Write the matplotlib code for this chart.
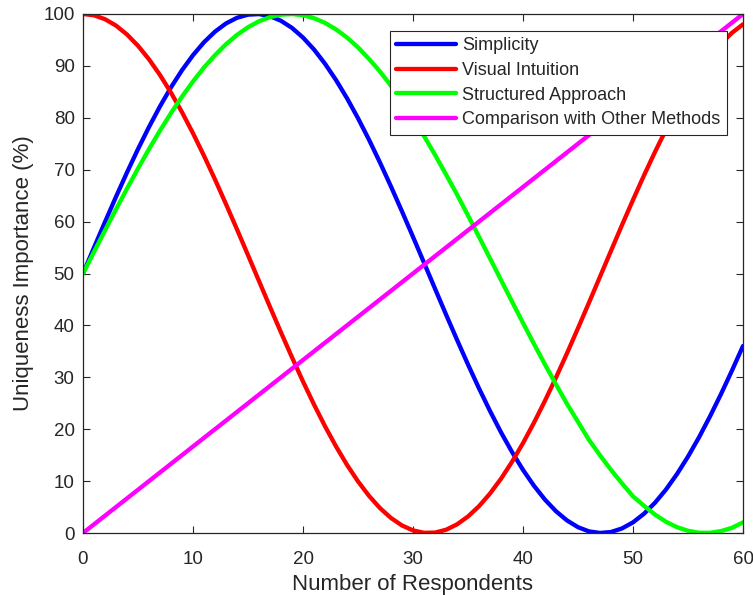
import matplotlib
matplotlib.use("Agg")
import matplotlib.pyplot as plt

x_vals = list(range(0, 61))
simplicity = [50.00, 54.99, 59.93, 64.78, 69.47, 73.97, 78.23, 82.21, 85.87, 89.17,
              92.07, 94.56, 96.60, 98.18, 99.27, 99.87, 99.98, 99.58, 98.69, 97.32,
              95.46, 93.16, 90.42, 87.28, 83.77, 79.92, 75.78, 71.37, 66.75, 61.96,
              57.06, 52.08, 47.08, 42.11, 37.23, 32.46, 27.87, 23.51, 19.40, 15.61,
              12.16, 9.09, 6.42, 4.19, 2.42, 1.12, 0.31, 0.01, 0.19, 0.88,
              2.05, 3.71, 5.83, 8.38, 11.36, 14.72, 18.43, 22.47, 26.77, 31.31, 36.03]
visual_intuition = [100.00, 99.75, 99.00, 97.77, 96.05, 93.88, 91.27, 88.24, 84.84, 81.08,
                    77.02, 72.68, 68.12, 63.37, 58.50, 53.54, 48.54, 43.56, 38.64, 33.84,
                    29.19, 24.76, 20.57, 16.69, 13.13, 9.94, 7.16, 4.79, 2.89, 1.45,
                    0.50, 0.04, 0.08, 0.62, 1.66, 3.18, 5.16, 7.60, 10.45, 13.71,
                    17.32, 21.26, 25.49, 29.96, 34.63, 39.46, 44.39, 49.38, 54.37, 59.33,
                    64.18, 68.90, 73.43, 77.72, 81.74, 85.44, 88.78, 91.74, 94.28, 96.38, 98.01]
structured = [50.00, 54.16, 58.30, 62.37, 66.36, 70.23, 73.97, 77.54, 80.92, 84.08,
              87.01, 89.69, 92.07, 94.18, 95.97, 97.45, 98.60, 99.40, 99.87, 99.99,
              99.77, 99.20, 98.29, 97.04, 95.46, 93.58, 91.34, 88.91, 86.17, 83.15,
              79.92, 76.49, 72.87, 69.09, 65.23, 61.18, 57.06, 52.91, 48.75, 44.59,
              40.47, 36.42, 32.46, 28.64, 24.88, 21.42, 17.94, 14.97, 12.16, 9.56,
              7.06, 5.25, 3.55, 2.16, 1.12, 0.43, 0.05, 0.04, 0.37, 1.00, 2.05]
comparison_x = [0, 60]
comparison = [0, 100]

labels = ["Simplicity", "Visual Intuition", "Structured Approach", "Comparison with Other Methods"]
xticks = [0, 10, 20, 30, 40, 50, 60]
yticks = [0, 10, 20, 30, 40, 50, 60, 70, 80, 90, 100]

plt.rcParams['font.family'] = ['Liberation Sans', 'DejaVu Sans']
axc = '#262626'

fig = plt.figure(figsize=(7.53, 5.95), dpi=100)
ax = fig.add_axes([83/753, 1 - 533/595, (743 - 83)/753, (533 - 14)/595])

lw = 3.1
kw = dict(lw=lw, solid_joinstyle='round', solid_capstyle='round')
ax.plot(x_vals, simplicity, color='#0000ff', label=labels[0], **kw)
ax.plot(x_vals, visual_intuition, color='#ff0000', label=labels[1], **kw)
ax.plot(x_vals, structured, color='#00ff00', label=labels[2], **kw)
ax.plot(comparison_x, comparison, color='#ff00ff', label=labels[3], **kw)

ax.set_xlim(0, 60)
ax.set_ylim(0, 100)
ax.set_xticks(xticks)
ax.set_yticks(yticks)
ax.tick_params(direction='in', top=True, right=True, length=5, width=0.8,
               colors=axc, labelsize=13.5, pad=6)
ax.tick_params(axis='x', pad=13)
for s in ax.spines.values():
    s.set_color(axc)
    s.set_linewidth(0.9)

ax.set_xlabel("Number of Respondents", fontsize=16, color=axc, labelpad=4)
ax.set_ylabel("Uniqueness Importance (%)", fontsize=16, color=axc, labelpad=7)

leg = ax.legend(loc='upper right', bbox_to_anchor=(727/753, 1 - 31/595),
                bbox_transform=fig.transFigure, fontsize=13,
                frameon=True, fancybox=False, edgecolor=axc, framealpha=1,
                handlelength=3.3, handletextpad=0.35, borderpad=0.36,
                labelspacing=0.42, borderaxespad=0)
leg.get_frame().set_linewidth(0.8)
for t in leg.get_texts():
    t.set_color(axc)

fig.savefig("out.png", dpi=100)
